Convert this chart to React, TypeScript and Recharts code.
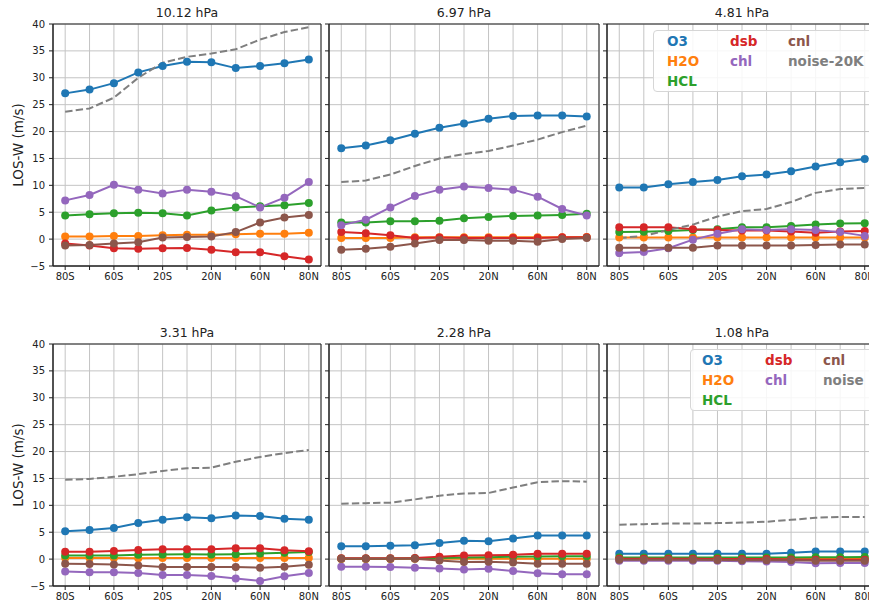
import React from 'react';
import { LineChart, Line, XAxis, YAxis, CartesianGrid, ReferenceArea } from 'recharts';

const xIndex = [0, 1, 2, 3, 4, 5, 6, 7, 8, 9, 10];
const xTickLabels = ['80S', '', '60S', '', '20S', '', '20N', '', '60N', '', '80N'];
const yTicks = [-5, 0, 5, 10, 15, 20, 25, 30, 35, 40];

const seriesNames = ['O3', 'H2O', 'HCL', 'dsb', 'chl', 'cnl', 'noise'];
const seriesColors = ['#1f77b4', '#ff7f0e', '#2ca02c', '#d62728', '#9467bd', '#8c564b', '#7f7f7f'];

const titles = ['10.12 hPa', '6.97 hPa', '4.81 hPa', '3.31 hPa', '2.28 hPa', '1.08 hPa'];

// 10.12 hPa
const p1O3 = [27.1, 27.8, 29.0, 31.0, 32.2, 33.0, 32.9, 31.8, 32.2, 32.7, 33.4];
const p1H2O = [0.5, 0.5, 0.6, 0.6, 0.7, 0.8, 0.8, 0.9, 1.0, 1.0, 1.2];
const p1HCL = [4.4, 4.6, 4.8, 4.9, 4.8, 4.4, 5.3, 5.9, 6.1, 6.3, 6.7];
const p1dsb = [-0.8, -1.2, -1.7, -1.8, -1.7, -1.65, -2.0, -2.45, -2.45, -3.2, -3.8];
const p1chl = [7.2, 8.2, 10.1, 9.2, 8.5, 9.2, 8.8, 8.0, 5.9, 7.7, 10.6];
const p1cnl = [-1.2, -1.1, -0.8, -0.6, 0.3, 0.4, 0.5, 1.3, 3.1, 4.0, 4.5];
const p1noise = [23.7, 24.3, 26.3, 30.0, 32.8, 33.9, 34.5, 35.3, 37.1, 38.5, 39.4];

// 6.97 hPa
const p2O3 = [16.9, 17.4, 18.4, 19.6, 20.7, 21.5, 22.4, 22.9, 23.0, 23.0, 22.8];
const p2H2O = [0.2, 0.2, 0.2, 0.35, 0.35, 0.35, 0.35, 0.35, 0.35, 0.35, 0.4];
const p2HCL = [3.1, 3.1, 3.3, 3.3, 3.4, 3.9, 4.1, 4.3, 4.4, 4.5, 4.7];
const p2dsb = [1.3, 1.1, 0.7, 0.2, 0.3, 0.2, 0.2, 0.2, 0.2, 0.35, 0.35];
const p2chl = [2.6, 3.6, 5.9, 8.0, 9.2, 9.8, 9.5, 9.2, 7.9, 5.6, 4.4];
const p2cnl = [-2.0, -1.8, -1.4, -0.8, -0.15, -0.15, -0.3, -0.3, -0.5, 0.0, 0.2];
const p2noise = [10.6, 10.9, 12.0, 13.6, 15.0, 15.8, 16.4, 17.4, 18.5, 19.9, 21.1];

// 4.81 hPa
const p3O3 = [9.6, 9.6, 10.2, 10.6, 11.0, 11.7, 12.0, 12.6, 13.5, 14.3, 14.9];
const p3H2O = [0.3, 0.3, 0.3, 0.3, 0.3, 0.3, 0.3, 0.3, 0.3, 0.3, 0.3];
const p3HCL = [1.3, 1.35, 1.5, 1.7, 1.85, 2.2, 2.2, 2.45, 2.7, 2.9, 2.95];
const p3dsb = [2.2, 2.2, 2.2, 1.85, 1.7, 1.6, 1.6, 1.4, 1.2, 1.4, 1.5];
const p3chl = [-2.6, -2.4, -1.7, -0.1, 1.0, 1.85, 1.7, 1.85, 1.7, 1.3, 0.6];
const p3cnl = [-1.6, -1.6, -1.6, -1.6, -1.2, -1.2, -1.2, -1.2, -1.1, -1.0, -1.0];
const p3noise = [0.2, 0.6, 1.7, 2.7, 4.2, 5.2, 5.6, 6.9, 8.6, 9.3, 9.5];

// 3.31 hPa
const p4O3 = [5.2, 5.4, 5.8, 6.7, 7.3, 7.8, 7.6, 8.1, 8.0, 7.5, 7.3];
const p4H2O = [0.2, 0.2, 0.2, 0.15, 0.2, 0.2, 0.2, 0.2, 0.2, 0.2, 0.2];
const p4HCL = [0.65, 0.65, 0.65, 0.8, 0.85, 0.9, 0.85, 0.9, 1.05, 1.2, 1.3];
const p4dsb = [1.35, 1.35, 1.5, 1.7, 1.85, 1.85, 1.85, 2.0, 2.0, 1.65, 1.45];
const p4chl = [-2.3, -2.45, -2.45, -2.6, -2.95, -2.95, -3.15, -3.6, -4.05, -3.2, -2.6];
const p4cnl = [-0.85, -0.9, -1.0, -1.2, -1.45, -1.45, -1.45, -1.45, -1.6, -1.4, -1.05];
const p4noise = [14.75, 14.9, 15.3, 15.8, 16.4, 16.9, 17.0, 18.1, 19.0, 19.7, 20.3];

// 2.28 hPa
const p5O3 = [2.4, 2.4, 2.5, 2.6, 3.0, 3.4, 3.3, 3.85, 4.4, 4.4, 4.4];
const p5H2O = [0.0, 0.0, 0.0, 0.05, 0.05, 0.05, 0.05, 0.05, 0.05, 0.05, 0.05];
const p5HCL = [0.1, 0.1, 0.1, 0.15, 0.2, 0.3, 0.35, 0.45, 0.5, 0.55, 0.55];
const p5dsb = [0.15, 0.15, 0.15, 0.2, 0.45, 0.65, 0.7, 0.8, 1.0, 1.0, 1.0];
const p5chl = [-1.4, -1.4, -1.45, -1.6, -1.75, -1.95, -1.8, -2.2, -2.65, -2.8, -2.8];
const p5cnl = [0.05, 0.05, 0.05, 0.05, -0.25, -0.55, -0.5, -0.65, -0.85, -0.85, -0.85];
const p5noise = [10.3, 10.4, 10.5, 11.1, 11.8, 12.2, 12.3, 13.3, 14.3, 14.5, 14.4];

// 1.08 hPa
const p6O3 = [1.0, 1.0, 1.0, 1.0, 1.0, 1.0, 1.0, 1.2, 1.4, 1.4, 1.4];
const p6H2O = [0.1, 0.1, 0.1, 0.1, 0.1, 0.1, 0.1, 0.1, 0.1, 0.1, 0.1];
const p6HCL = [0.3, 0.3, 0.3, 0.3, 0.3, 0.3, 0.3, 0.3, 0.35, 0.35, 0.4];
const p6dsb = [0.05, 0.05, 0.05, 0.05, 0.0, 0.0, 0.0, -0.05, -0.1, -0.1, -0.1];
const p6chl = [-0.3, -0.3, -0.3, -0.3, -0.3, -0.4, -0.45, -0.55, -0.75, -0.7, -0.7];
const p6cnl = [-0.1, -0.1, -0.1, -0.1, -0.15, -0.2, -0.2, -0.2, -0.3, -0.3, -0.3];
const p6noise = [6.4, 6.5, 6.6, 6.6, 6.7, 6.8, 6.95, 7.3, 7.7, 7.85, 7.85];

const panelSeries = [
  [p1O3, p1H2O, p1HCL, p1dsb, p1chl, p1cnl, p1noise],
  [p2O3, p2H2O, p2HCL, p2dsb, p2chl, p2cnl, p2noise],
  [p3O3, p3H2O, p3HCL, p3dsb, p3chl, p3cnl, p3noise],
  [p4O3, p4H2O, p4HCL, p4dsb, p4chl, p4cnl, p4noise],
  [p5O3, p5H2O, p5HCL, p5dsb, p5chl, p5cnl, p5noise],
  [p6O3, p6H2O, p6HCL, p6dsb, p6chl, p6cnl, p6noise],
];

const legend1Labels = ['O3', 'H2O', 'HCL', 'dsb', 'chl', 'cnl', 'noise-20K'];
const legend2Labels = ['O3', 'H2O', 'HCL', 'dsb', 'chl', 'cnl', 'noise'];
// matplotlib ncol=3 fills columns 3, 2, 2
const legendCol = [0, 0, 0, 1, 1, 2, 2];
const legendRow = [0, 1, 2, 0, 1, 0, 1];

const FONT = '"DejaVu Sans", sans-serif';
const YW = 45;
const XH = 25;
const MT = 10;
const MR = 10;
const PH = 242;

const panelBoxes = [
  { left: 53, top: 24, w: 268 },
  { left: 329, top: 24, w: 270 },
  { left: 607, top: 24, w: 270 },
  { left: 53, top: 344, w: 268 },
  { left: 329, top: 344, w: 270 },
  { left: 607, top: 344, w: 270 },
];

const fmtY = (v: number) => (v < 0 ? '\u2212' + Math.abs(v) : String(v));

function Panel({ idx }: { idx: number }) {
  const box = panelBoxes[idx];
  const series = panelSeries[idx];
  const data = xIndex.map((x, i) => {
    const row: Record<string, number> = { x };
    seriesNames.forEach((n, k) => {
      row[n] = series[k][i];
    });
    return row;
  });
  const showY = idx % 3 === 0;
  return (
    <div style={{ position: 'absolute', left: box.left - YW, top: box.top - MT }}>
      <LineChart
        width={box.w + YW + MR}
        height={PH + MT + XH}
        data={data}
        margin={{ top: MT, right: MR, bottom: 0, left: 0 }}
      >
        <CartesianGrid stroke="#c4c4c4" strokeWidth={1} />
        <XAxis
          dataKey="x"
          type="number"
          domain={[-0.5, 10.5]}
          ticks={xIndex}
          interval={0}
          height={XH}
          tickFormatter={(v: number) => xTickLabels[v] ?? ''}
          tick={{ fill: '#222', fontSize: 10, fontFamily: FONT }}
          tickSize={4}
          tickMargin={3}
          axisLine={{ stroke: '#222' }}
          tickLine={{ stroke: '#222' }}
        />
        <YAxis
          type="number"
          domain={[-5, 40]}
          ticks={yTicks}
          interval={0}
          width={YW}
          tickFormatter={(v: number) => (showY ? fmtY(v) : '')}
          tick={{ fill: '#222', fontSize: 10, fontFamily: FONT }}
          tickSize={4}
          tickMargin={4}
          axisLine={{ stroke: '#222' }}
          tickLine={{ stroke: '#222' }}
        />
        {seriesNames.map((n, k) =>
          n === 'noise' ? (
            <Line
              key={n}
              dataKey={n}
              stroke={seriesColors[k]}
              strokeWidth={2}
              strokeDasharray="7.4 3.2"
              dot={false}
              activeDot={false}
              isAnimationActive={false}
            />
          ) : (
            <Line
              key={n}
              dataKey={n}
              stroke={seriesColors[k]}
              strokeWidth={2}
              dot={{ r: 4, fill: seriesColors[k], stroke: seriesColors[k], strokeWidth: 0 }}
              activeDot={false}
              isAnimationActive={false}
            />
          )
        )}
        <ReferenceArea x1={-0.5} x2={10.5} y1={-5} y2={40} fill="none" stroke="#222" strokeWidth={1} />
      </LineChart>
    </div>
  );
}

function LegendBox({ left, top, labels, cols }: { left: number; top: number; labels: string[]; cols: number[] }) {
  return (
    <div
      style={{
        position: 'absolute',
        left,
        top,
        width: 260,
        height: 60,
        background: 'rgba(255,255,255,0.85)',
        border: '1px solid #d6d6d6',
        borderRadius: 4,
        fontFamily: FONT,
        fontWeight: 'bold',
        fontSize: 13.5,
      }}
    >
      {labels.map((lab, k) => (
        <div
          key={lab}
          style={{
            position: 'absolute',
            left: cols[legendCol[k]],
            top: 2 + legendRow[k] * 20,
            lineHeight: '16px',
            color: seriesColors[k],
            whiteSpace: 'nowrap',
          }}
        >
          {lab}
        </div>
      ))}
    </div>
  );
}

export default function App() {
  return (
    <div
      style={{
        position: 'absolute',
        left: 0,
        top: 0,
        width: 869,
        height: 606,
        overflow: 'hidden',
        background: '#fff',
        fontFamily: FONT,
      }}
    >
      {titles.map((t, i) => {
        const box = panelBoxes[i];
        return (
          <div
            key={t}
            style={{
              position: 'absolute',
              left: box.left,
              width: box.w,
              top: box.top - 18,
              textAlign: 'center',
              fontSize: 12.5,
              color: '#222',
              lineHeight: '14px',
            }}
          >
            {t}
          </div>
        );
      })}
      {[0, 1].map((r) => (
        <div
          key={r}
          style={{
            position: 'absolute',
            left: 18 - 60,
            top: panelBoxes[r * 3].top + PH / 2 - 9,
            width: 120,
            textAlign: 'center',
            fontSize: 13.5,
            lineHeight: '18px',
            color: '#222',
            transform: 'rotate(-90deg)',
            whiteSpace: 'nowrap',
          }}
        >
          LOS-W (m/s)
        </div>
      ))}
      {[0, 1, 2, 3, 4, 5].map((i) => (
        <Panel key={i} idx={i} />
      ))}
      <LegendBox left={653} top={30} labels={legend1Labels} cols={[13, 76, 134]} />
      <LegendBox left={690} top={349} labels={legend2Labels} cols={[11, 74, 132]} />
    </div>
  );
}
